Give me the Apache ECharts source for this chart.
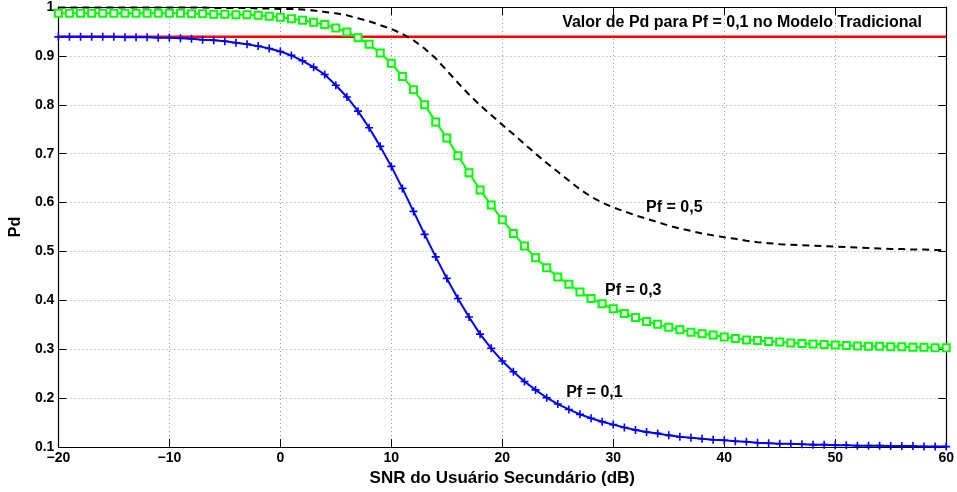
<!DOCTYPE html>
<html>
<head>
<meta charset="utf-8">
<script src="https://cdn.jsdelivr.net/npm/echarts@6/dist/echarts.min.js"></script>
<style>
  html, body { margin: 0; padding: 0; background: #fff; }
  #chart { width: 957px; height: 492px; }
</style>
</head>
<body>
<div id="chart"></div>
<script>
// SNR do usuário secundário (dB), -20..60 passo 1
const snr = [];
for (let d = -20; d <= 60; d++) snr.push(d);

// Pd para Pf = 0,1 (azul)
const pd01 = [
  0.939, 0.939, 0.939, 0.939, 0.939, 0.939, 0.938, 0.938, 0.938, 0.937,
  0.937, 0.936, 0.935, 0.933, 0.932, 0.930, 0.927, 0.924, 0.920, 0.915,
  0.909, 0.901, 0.890, 0.877, 0.862, 0.840, 0.816, 0.787, 0.753, 0.715,
  0.674, 0.629, 0.582, 0.535, 0.489, 0.445, 0.404, 0.366, 0.331, 0.302,
  0.276, 0.254, 0.234, 0.217, 0.201, 0.188, 0.177, 0.167, 0.159, 0.152,
  0.146, 0.140, 0.135, 0.131, 0.128, 0.124, 0.121, 0.119, 0.117, 0.115,
  0.114, 0.112, 0.111, 0.109, 0.108, 0.107, 0.107, 0.106, 0.105, 0.105,
  0.104, 0.104, 0.103, 0.103, 0.103, 0.102, 0.102, 0.102, 0.101, 0.101,
  0.101
];

// Pd para Pf = 0,3 (verde)
const pd03 = [
  0.987, 0.987, 0.987, 0.987, 0.987, 0.987, 0.987, 0.987, 0.987, 0.987,
  0.987, 0.987, 0.986, 0.986, 0.985, 0.985, 0.984, 0.984, 0.983, 0.981,
  0.979, 0.976, 0.973, 0.969, 0.964, 0.957, 0.949, 0.937, 0.924, 0.906,
  0.885, 0.858, 0.831, 0.800, 0.765, 0.732, 0.696, 0.661, 0.626, 0.595,
  0.565, 0.537, 0.511, 0.487, 0.467, 0.448, 0.433, 0.417, 0.404, 0.393,
  0.383, 0.373, 0.365, 0.357, 0.351, 0.345, 0.340, 0.335, 0.332, 0.329,
  0.325, 0.322, 0.319, 0.318, 0.316, 0.315, 0.313, 0.312, 0.311, 0.310,
  0.309, 0.308, 0.307, 0.306, 0.306, 0.305, 0.305, 0.304, 0.304, 0.303,
  0.303
];

// Pd para Pf = 0,5 (preto tracejado)
const pd05 = [
  0.999, 0.999, 0.999, 0.999, 0.999, 0.999, 0.999, 0.999, 0.999, 0.999,
  0.999, 0.999, 0.999, 0.999, 0.998, 0.998, 0.998, 0.998, 0.997, 0.997,
  0.996, 0.996, 0.995, 0.993, 0.990, 0.987, 0.983, 0.977, 0.971, 0.963,
  0.955, 0.945, 0.932, 0.915, 0.895, 0.870, 0.845, 0.821, 0.799, 0.779,
  0.759, 0.740, 0.720, 0.700, 0.681, 0.663, 0.645, 0.627, 0.612, 0.600,
  0.590, 0.582, 0.574, 0.567, 0.560, 0.553, 0.547, 0.542, 0.537, 0.533,
  0.529, 0.526, 0.522, 0.519, 0.517, 0.515, 0.514, 0.513, 0.512, 0.511,
  0.510, 0.509, 0.508, 0.507, 0.506, 0.505, 0.505, 0.504, 0.504, 0.503,
  0.503
];

// valor de Pd para Pf = 0,1 no modelo tradicional
const refX = [-20, 60];
const refY = [0.939, 0.939];

// anotações: [texto, x (dB), y (Pd)]
const notes = [
  ['Valor de Pd para Pf = 0,1 no Modelo Tradicional', 41.6, 0.968],
  ['Pf = 0,5', 35.5, 0.590],
  ['Pf = 0,3', 31.8, 0.421],
  ['Pf = 0,1', 28.3, 0.212]
];

const FONT = '"Liberation Sans", Arial, Helvetica, sans-serif';
const pairs = (xs, ys) => xs.map((x, i) => [x, ys[i]]);
const fmtX = v => (v < 0 ? '\u2212' + Math.abs(v) : String(v));
const fmtY = v => String(Math.round(v * 10) / 10);

const chart = echarts.init(document.getElementById('chart'), null, { renderer: 'canvas' });

const gridLine = { show: true, lineStyle: { color: '#9a9a9a', width: 1, type: [1, 3] } };
const tick = { show: true, inside: true, length: 8, lineStyle: { color: '#000' } };
const axisLine = { show: true, onZero: false, lineStyle: { color: '#000', width: 1.2 } };

const option = {
  backgroundColor: '#ffffff',
  animation: false,
  grid: { left: 55, right: 8, top: 6, bottom: 42, containLabel: false },
  xAxis: [{
    type: 'value', min: -20, max: 60, interval: 10,
    name: 'SNR do Usuário Secundário (dB)', nameLocation: 'middle', nameGap: 17,
    nameTextStyle: { fontFamily: FONT, fontWeight: 'bold', fontSize: 17, color: '#000' },
    axisLine: axisLine, axisTick: tick, splitLine: gridLine,
    axisLabel: { formatter: fmtX, margin: 4, fontFamily: FONT, fontWeight: 'bold', fontSize: 14, color: '#000' }
  }, {
    type: 'value', position: 'top', min: -20, max: 60, interval: 10,
    axisLine: axisLine, axisTick: tick, splitLine: { show: false }, axisLabel: { show: false }
  }],
  yAxis: [{
    type: 'value', min: 0.1, max: 1, interval: 0.1,
    name: 'Pd', nameLocation: 'middle', nameGap: 29,
    nameTextStyle: { fontFamily: FONT, fontWeight: 'bold', fontSize: 16, color: '#000' },
    axisLine: axisLine, axisTick: tick, splitLine: gridLine,
    axisLabel: { formatter: fmtY, margin: 4, fontFamily: FONT, fontWeight: 'bold', fontSize: 14, color: '#000' }
  }, {
    type: 'value', position: 'right', min: 0.1, max: 1, interval: 0.1,
    axisLine: axisLine, axisTick: tick, splitLine: { show: false }, axisLabel: { show: false }
  }],
  series: [{
    name: 'Pf = 0,5', type: 'line', data: pairs(snr, pd05),
    showSymbol: false, symbol: 'none',
    lineStyle: { color: '#000000', width: 2, type: [7, 5] }, z: 3
  }, {
    name: 'Pf = 0,3', type: 'line', data: pairs(snr, pd03),
    symbol: 'emptyRect', symbolSize: 7,
    itemStyle: { color: '#00ff00', borderColor: '#00ff00', borderWidth: 1.5 },
    lineStyle: { color: '#00ff00', width: 2 }, z: 4
  }, {
    name: 'Pf = 0,1', type: 'line', data: pairs(snr, pd01),
    symbol: 'path://M4,0h2v10h-2zM0,4h10v2h-10z', symbolSize: 8,
    itemStyle: { color: '#0000ff' },
    lineStyle: { color: '#0000ff', width: 2 }, z: 5
  }, {
    name: 'Tradicional', type: 'line', data: pairs(refX, refY),
    symbol: 'none',
    lineStyle: { color: '#ff0000', width: 2.5 }, z: 2
  }]
};

chart.setOption(option);

// anotações posicionadas pelas coordenadas dos dados
chart.setOption({
  graphic: notes.map(n => {
    const p = chart.convertToPixel({ gridIndex: 0 }, [n[1], n[2]]);
    return {
      type: 'text', x: p[0], y: p[1], z: 100,
      style: {
        text: n[0], fill: '#000', font: 'bold 16px ' + FONT,
        textAlign: 'center', textVerticalAlign: 'middle'
      }
    };
  })
});
</script>
</body>
</html>
